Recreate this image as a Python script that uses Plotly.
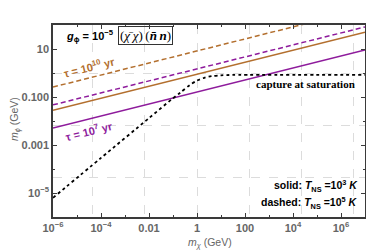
import math
import plotly.graph_objects as go

# ---------------- data ----------------
m_chi_range = [1e-6, 1e7]
m_phi_range = [1e-6, 1e2]

line_mchi = [1e-6, 1e7]
tau7_T3 = [5.1e-3, 9.1]      # purple solid
tau10_T3 = [2.8e-2, 50.0]    # brown solid
tau7_T5 = [4.7e-2, 83.0]     # purple dashed
tau10_T5 = [2.6e-1, 470.0]   # brown dashed

sat_mchi = [1e-6, 1e-4, 1e-2, 8.9e-2, 0.2, 0.5, 1.0, 2.0, 4.0, 10.0, 31.6, 1e7]
sat_mphi = [6.3e-6, 2.9e-4, 1.32e-2, 8.1e-2, 0.151, 0.316, 0.48, 0.63, 0.74, 0.80, 0.83, 0.83]

x_tickvals = [1e-6, 1e-4, 1e-2, 1, 1e2, 1e4, 1e6]
x_ticktext = ["10<sup>−6</sup>", "10<sup>−4</sup>", "0.01", "1", "100", "10<sup>4</sup>", "10<sup>6</sup>"]
x_minor = [1e-5, 1e-3, 1e-1, 10, 1e3, 1e5]
y_tickvals = [1e-5, 1e-3, 1e-1, 10]
y_ticktext = ["10<sup>−5</sup>", "0.001", "0.100", "10"]
y_minor = [1e-4, 1e-2, 1]

grid_x = [math.exp(5 * k) for k in range(-2, 4)]
grid_y = [math.exp(5 * k) for k in range(-2, 1)]

PURPLE = "#8e1b9c"
BROWN = "#b36f2e"
GRAY = "#666666"
FRAME = "#3a3a3a"

fig = go.Figure()

# empty trace to carry the grid axes
fig.add_trace(go.Scatter(x=[], y=[], xaxis="x2", yaxis="y2", showlegend=False, hoverinfo="skip"))

def add_line(y, color, dash):
    fig.add_trace(go.Scatter(x=line_mchi, y=y, mode="lines", showlegend=False,
                             line=dict(color=color, width=1.5, dash=dash)))

add_line(tau10_T5, BROWN, "5px,3px")
add_line(tau7_T5, PURPLE, "5px,3px")
add_line(tau10_T3, BROWN, "solid")
add_line(tau7_T3, PURPLE, "solid")

fig.add_trace(go.Scatter(x=sat_mchi, y=sat_mphi, mode="lines", showlegend=False,
                         line=dict(color="black", width=1.8, dash="dot", shape="spline", smoothing=0.8)))

tickfont = dict(family="Liberation Sans", size=11, color=GRAY, weight="bold")

# the page body adds an 8px offset, so the figure is 8px smaller and margins shifted
fig.update_layout(
    width=366, height=244,
    margin=dict(l=45, r=9, t=17, b=35, autoexpand=False),
    paper_bgcolor="white", plot_bgcolor="white",
    xaxis=dict(type="log", range=[math.log10(v) for v in m_chi_range], automargin=False,
               showgrid=False, zeroline=False,
               showline=True, linecolor=FRAME, linewidth=1.5, mirror="ticks",
               ticks="inside", ticklen=4, tickcolor=FRAME, tickwidth=1,
               tickvals=x_tickvals, ticktext=x_ticktext, tickfont=tickfont,
               minor=dict(tickvals=x_minor, ticks="inside", ticklen=2.5, tickcolor=FRAME, showgrid=False)),
    yaxis=dict(type="log", range=[math.log10(v) for v in m_phi_range], automargin=False,
               showgrid=False, zeroline=False,
               showline=True, linecolor=FRAME, linewidth=1.5, mirror="ticks",
               ticks="inside", ticklen=4, tickcolor=FRAME, tickwidth=1,
               tickvals=y_tickvals, ticktext=y_ticktext, tickfont=tickfont,
               minor=dict(tickvals=y_minor, ticks="inside", ticklen=2.5, tickcolor=FRAME, showgrid=False)),
    xaxis2=dict(type="log", range=[math.log10(v) for v in m_chi_range], overlaying="x", automargin=False,
                tickvals=grid_x, ticktext=[" "] * len(grid_x), showticklabels=False, ticks="",
                showline=False, zeroline=False,
                showgrid=True, gridcolor="#dcdcdc", gridwidth=1, griddash="dash"),
    yaxis2=dict(type="log", range=[math.log10(v) for v in m_phi_range], overlaying="y", automargin=False,
                tickvals=grid_y, ticktext=[" "] * len(grid_y), showticklabels=False, ticks="",
                showline=False, zeroline=False,
                showgrid=True, gridcolor="#dcdcdc", gridwidth=1, griddash="dash"),
)

def px(xp, yp):
    return (xp - 53) / 312.0, (217 - yp) / 192.0

anns = []
def ann(text, xp, yp, size=11, color="black", family="Liberation Sans", angle=0, xanchor="center", **kw):
    x, y = px(xp, yp)
    anns.append(dict(text=text, x=x, y=y, xref="paper", yref="paper", showarrow=False,
                     xanchor=xanchor, yanchor="middle", textangle=angle,
                     font=dict(family=family, size=size, color=color), **kw))

ann("<b><i>g</i><sub>ϕ</sub> = 10<sup>−5</sup></b>", 64, 36, size=11, xanchor="left")
ann("(<i>χ\u0304</i>\u2009<i>χ</i>)\u2009(<b><i>n\u0304</i></b>\u2009<b><i>n</i></b>)", 145, 36, size=13,
    family="Liberation Serif", bordercolor="#333333", borderwidth=1, borderpad=1)
ann("<b>τ = 10<sup>10</sup> yr</b>", 89, 67, size=11, color=BROWN, angle=-14)
ann("<b>τ = 10<sup>7</sup> yr</b>", 89, 131, size=11, color=PURPLE, angle=-14)
ann("<b>capture at saturation</b>", 305, 84, size=11, family="Liberation Serif")
ann("<b>solid: <i>T</i><sub>NS</sub> =10<sup>3</sup> <i>K</i></b>", 360, 186, size=10.5, xanchor="right")
ann("<b>dashed: <i>T</i><sub>NS</sub> =10<sup>5</sup> <i>K</i></b>", 360, 203, size=10.5, xanchor="right")
ann("<i>m</i><sub><i>χ</i></sub> (GeV)", 210, 243, size=10.5, color=GRAY)
ann("<i>m</i><sub><i>ϕ</i></sub> (GeV)", 15, 119, size=10.5, color=GRAY, angle=-90)

fig.update_layout(annotations=anns)

fig.write_html("out.html")
